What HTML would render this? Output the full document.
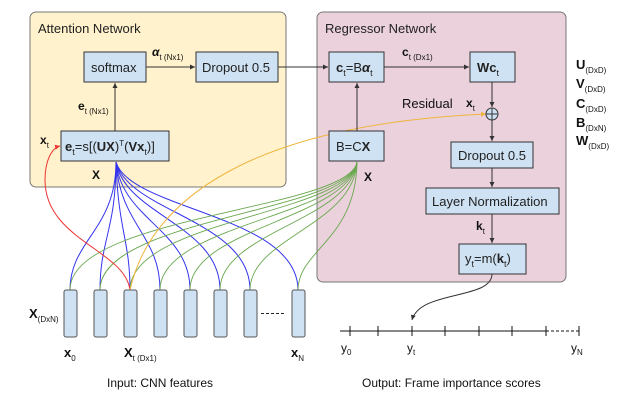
<!DOCTYPE html>
<html><head><meta charset="utf-8"><style>
html,body{margin:0;padding:0;background:#fff;}
svg{display:block;font-family:"Liberation Sans",sans-serif;}
</style></head><body>
<svg width="639" height="404" viewBox="0 0 639 404" xmlns="http://www.w3.org/2000/svg">
<defs>
<marker id="ah" markerWidth="6" markerHeight="6" refX="5" refY="3" orient="auto" markerUnits="userSpaceOnUse"><path d="M0,0.5 L5,3 L0,5.5z" fill="#333"/></marker>
<marker id="ahr" markerWidth="6" markerHeight="6" refX="5" refY="3" orient="auto" markerUnits="userSpaceOnUse"><path d="M0,0.5 L5,3 L0,5.5z" fill="#e33"/></marker>
<marker id="ahy" markerWidth="6" markerHeight="6" refX="5" refY="3" orient="auto" markerUnits="userSpaceOnUse"><path d="M0,0.5 L5,3 L0,5.5z" fill="#f0b43c"/></marker>
</defs>
<!-- Containers -->
<rect x="30" y="12" width="256" height="175" rx="6" fill="#fff2cc" stroke="#777" stroke-width="1"/>
<rect x="317" y="12" width="249" height="270" rx="6" fill="#ead1dc" stroke="#777" stroke-width="1"/>
<text x="38" y="33" font-size="13" fill="#222">Attention Network</text>
<text x="325" y="33" font-size="13" fill="#222">Regressor Network</text>

<!-- fans blue -->
<g fill="none" stroke="#3333ee" stroke-width="1">
<path d="M116,162 C116,230 70,240 70,290"/>
<path d="M116,162 C116,230 100,240 100,290"/>
<path d="M116,162 C118,230 130,240 130,290"/>
<path d="M116,162 C120,225 160,235 160,290"/>
<path d="M116,162 C122,220 190,230 190,290"/>
<path d="M116,162 C125,215 220,225 220,290"/>
<path d="M116,162 C128,212 250,220 250,290"/>
<path d="M116,162 C130,210 298,215 298,290"/>
</g>
<!-- fans green -->
<g fill="none" stroke="#6aa84f" stroke-width="0.9">
<path d="M357,162 C350,210 70,215 70,290"/>
<path d="M357,162 C350,212 100,218 100,290"/>
<path d="M357,162 C350,214 130,220 130,290"/>
<path d="M357,162 C350,216 160,224 160,290"/>
<path d="M357,162 C350,218 190,228 190,290"/>
<path d="M357,162 C352,220 220,232 220,290"/>
<path d="M357,162 C354,225 250,238 250,290"/>
<path d="M357,162 C356,240 298,250 298,290"/>
</g>
<!-- red -->
<path d="M130,290 C125,250 45,240 45,180 C45,160 52,148 60,146" fill="none" stroke="#e33" stroke-width="1" marker-end="url(#ahr)"/>
<!-- yellow -->
<path d="M130,290 C150,200 250,125 486,114" fill="none" stroke="#f0b43c" stroke-width="1" marker-end="url(#ahy)"/>

<!-- boxes -->
<g fill="#cfe2f3" stroke="#333" stroke-width="1">
<rect x="84" y="52" width="62" height="30"/>
<rect x="196" y="52" width="82" height="30"/>
<rect x="61" y="131" width="108" height="30"/>
<rect x="329" y="52" width="55" height="30"/>
<rect x="470" y="52" width="45" height="30"/>
<rect x="329" y="131" width="55" height="30"/>
<rect x="451" y="142" width="82" height="26"/>
<rect x="426" y="188" width="133" height="26"/>
<rect x="459" y="244" width="67" height="30"/>
</g>
<circle cx="492" cy="114" r="6" fill="#cfe2f3" stroke="#333"/>
<path d="M486,114 H498 M492,108 V120" stroke="#333"/>

<!-- arrows -->
<g stroke="#333" stroke-width="1" fill="none">
<path d="M115,131 V83" marker-end="url(#ah)"/>
<path d="M146,67 H195" marker-end="url(#ah)"/>
<path d="M278,67 H328" marker-end="url(#ah)"/>
<path d="M384,67 H469" marker-end="url(#ah)"/>
<path d="M357,131 V83" marker-end="url(#ah)"/>
<path d="M492,82 V107" marker-end="url(#ah)"/>
<path d="M492,120 V141" marker-end="url(#ah)"/>
<path d="M492,168 V187" marker-end="url(#ah)"/>
<path d="M492,214 V243" marker-end="url(#ah)"/>
<path d="M492,274 C492,300 420,290 412,320" marker-end="url(#ah)"/>
</g>

<!-- box text -->
<g font-size="13" fill="#222">
<text x="91" y="72">softmax</text>
<text x="202" y="72">Dropout 0.5</text>
<text x="65" y="151"><tspan font-weight="bold">e</tspan><tspan font-size="9" dy="4">t</tspan><tspan dy="-4">=s[(</tspan><tspan font-weight="bold">UX</tspan><tspan>)</tspan><tspan font-size="8" dy="-5">T</tspan><tspan dy="5">(</tspan><tspan font-weight="bold">Vx</tspan><tspan font-size="9" dy="4">t</tspan><tspan dy="-4">)]</tspan></text>
<text x="336" y="72"><tspan font-weight="bold">c</tspan><tspan font-size="9" dy="4">t</tspan><tspan dy="-4">=B</tspan><tspan font-style="italic" font-weight="bold">α</tspan><tspan font-size="9" dy="4">t</tspan></text>
<text x="477" y="72"><tspan font-weight="bold">Wc</tspan><tspan font-size="9" dy="4">t</tspan></text>
<text x="336" y="151">B=C<tspan font-weight="bold">X</tspan></text>
<text x="458" y="160">Dropout 0.5</text>
<text x="432" y="206">Layer Normalization</text>
<text x="465" y="263">y<tspan font-size="9" dy="4">t</tspan><tspan dy="-4">=m(</tspan><tspan font-weight="bold">k</tspan><tspan font-size="9" dy="4">t</tspan><tspan dy="-4">)</tspan></text>
</g>

<!-- labels -->
<g font-size="12" fill="#111">
<text x="152" y="56" font-weight="bold" font-style="italic">α<tspan font-size="8" font-weight="normal" font-style="normal" dy="4">t (Nx1)</tspan></text>
<text x="78" y="110" font-weight="bold">e<tspan font-size="8" font-weight="normal" dy="4">t (Nx1)</tspan></text>
<text x="40" y="144" font-weight="bold">x<tspan font-size="8" font-weight="normal" dy="4">t</tspan></text>
<text x="92" y="179" font-weight="bold">X</text>
<text x="402" y="56" font-weight="bold">c<tspan font-size="8" font-weight="normal" dy="4">t (Dx1)</tspan></text>
<text x="402" y="108" font-weight="normal" font-size="13">Residual</text>
<text x="466" y="107" font-weight="bold">x<tspan font-size="8" font-weight="normal" dy="4">t</tspan></text>
<text x="364" y="181" font-weight="bold">X</text>
<text x="476" y="230" font-weight="bold">k<tspan font-size="8" font-weight="normal" dy="4">t</tspan></text>
</g>
<g font-size="13" font-weight="bold" fill="#111">
<text x="576" y="69">U<tspan font-size="8" font-weight="normal" dy="4">(DxD)</tspan></text>
<text x="576" y="88">V<tspan font-size="8" font-weight="normal" dy="4">(DxD)</tspan></text>
<text x="576" y="108">C<tspan font-size="8" font-weight="normal" dy="4">(DxD)</tspan></text>
<text x="576" y="127">B<tspan font-size="8" font-weight="normal" dy="4">(DxN)</tspan></text>
<text x="576" y="145">W<tspan font-size="8" font-weight="normal" dy="4">(DxD)</tspan></text>
</g>

<!-- feature bars -->
<g fill="#cfe2f3" stroke="#555" stroke-width="1">
<rect x="64" y="290" width="13" height="47" rx="2"/>
<rect x="94" y="290" width="13" height="47" rx="2"/>
<rect x="124" y="290" width="13" height="47" rx="2"/>
<rect x="154" y="290" width="13" height="47" rx="2"/>
<rect x="184" y="290" width="13" height="47" rx="2"/>
<rect x="214" y="290" width="13" height="47" rx="2"/>
<rect x="244" y="290" width="13" height="47" rx="2"/>
<rect x="292" y="290" width="13" height="47" rx="2"/>
</g>
<path d="M261,313.5 H284" stroke="#222" stroke-dasharray="3,2"/>
<g font-size="13" font-weight="bold" fill="#111">
<text x="29" y="318">X<tspan font-size="8" font-weight="normal" dy="4">(DxN)</tspan></text>
<text x="64" y="357">x<tspan font-size="8" font-weight="normal" dy="4">0</tspan></text>
<text x="124" y="357">X<tspan font-size="8" font-weight="normal" dy="4">t (Dx1)</tspan></text>
<text x="291" y="357">x<tspan font-size="8" font-weight="normal" dy="4">N</tspan></text>
</g>
<text x="107" y="387" font-size="12" fill="#111">Input: CNN features</text>

<!-- output axis -->
<g stroke="#111" stroke-width="1">
<path d="M340,331 H546"/>
<path d="M546,331 H579" stroke-dasharray="3,2"/>
<path d="M350,326 V336 M378,326 V336 M412,326 V336 M445,326 V336 M479,326 V336 M512,326 V336 M546,326 V336 M579,326 V336"/>
</g>
<g font-size="12" fill="#111">
<text x="341" y="352">y<tspan font-size="8" dy="3">0</tspan></text>
<text x="407" y="352">y<tspan font-size="8" dy="3">t</tspan></text>
<text x="571" y="352">y<tspan font-size="8" dy="3">N</tspan></text>
<text x="362" y="387">Output: Frame importance scores</text>
</g>
</svg>
</body></html>
